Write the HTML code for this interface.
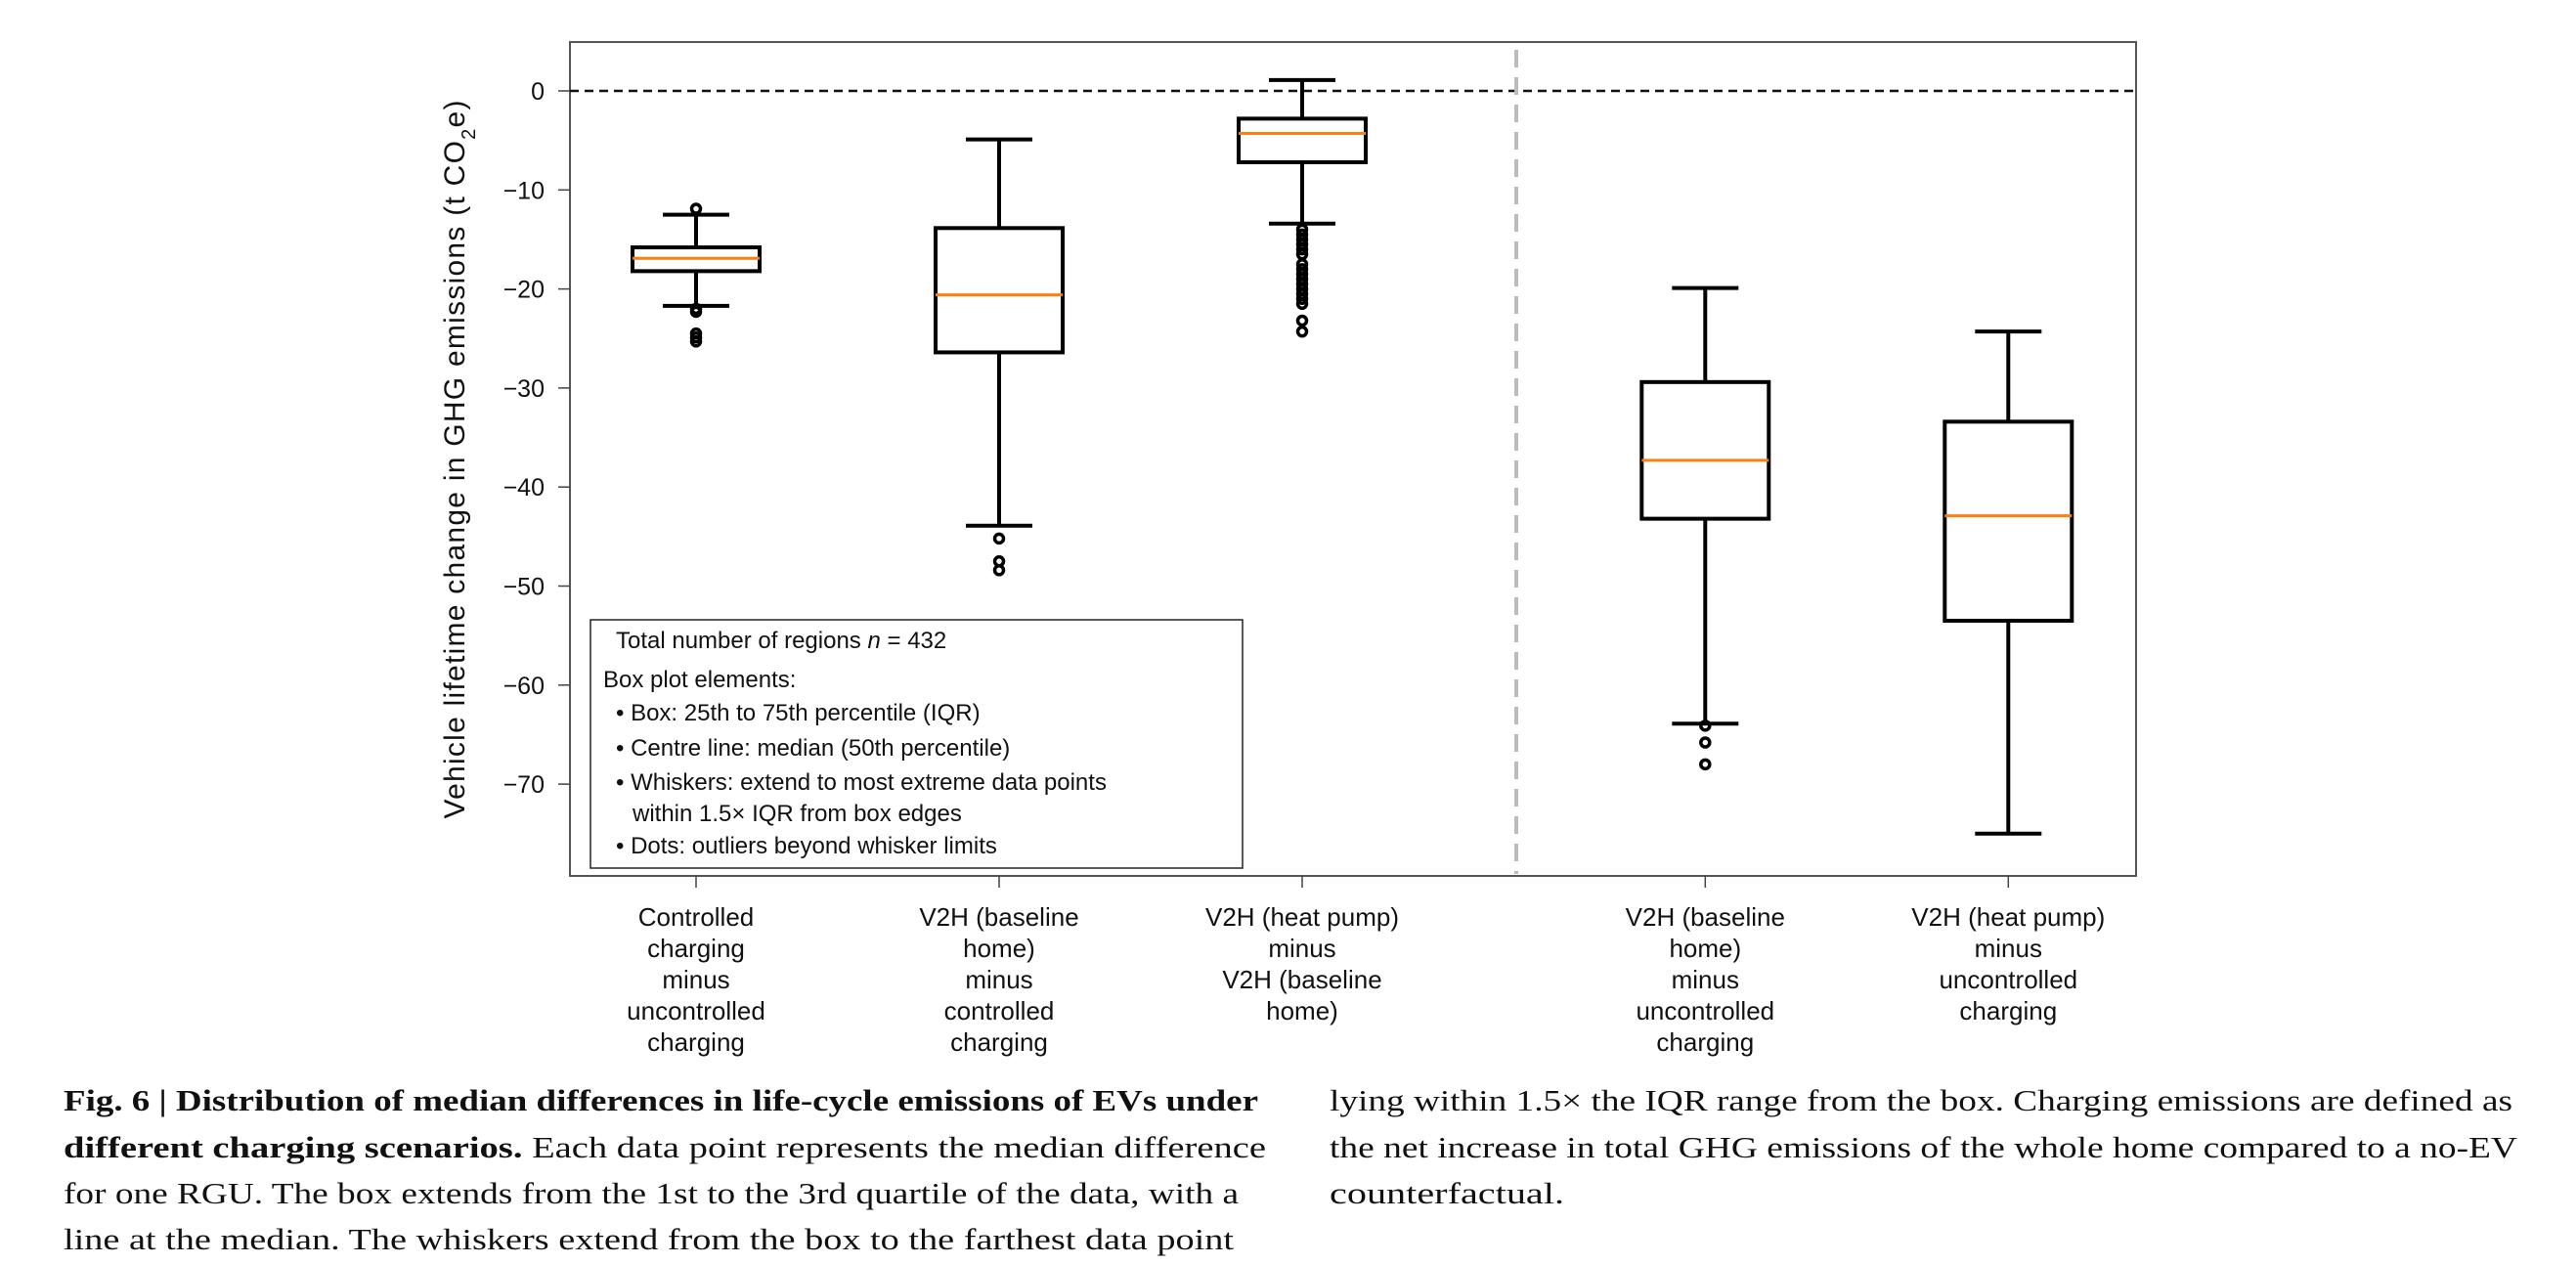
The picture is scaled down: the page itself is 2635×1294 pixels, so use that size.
<!DOCTYPE html>
<html><head><meta charset="utf-8"><style>
html,body{margin:0;padding:0;background:#fff}
svg{display:block}
text{font-family:"Liberation Sans",sans-serif;fill:#111}
.cap{font-family:"Liberation Serif",serif;font-size:31px;fill:#111}
</style></head><body>
<svg id="chart" width="2635" height="1294" viewBox="0 0 2635 1294">
<g id="plot"></g>
<g id="legend">
<rect x="604" y="634" width="667" height="254" fill="#fff" stroke="#222" stroke-width="1.5"/>
<text x="630" y="663" font-size="24">Total number of regions <tspan font-style="italic">n</tspan> = 432</text>
<text x="617" y="703" font-size="24">Box plot elements:</text>
<text x="630" y="737" font-size="24">• Box: 25th to 75th percentile (IQR)</text>
<text x="630" y="773" font-size="24">• Centre line: median (50th percentile)</text>
<text x="630" y="808" font-size="24">• Whiskers: extend to most extreme data points</text>
<text x="647" y="840" font-size="24">within 1.5× IQR from box edges</text>
<text x="630" y="873" font-size="24">• Dots: outliers beyond whisker limits</text>
</g>
<text transform="translate(475,470) rotate(-90)" text-anchor="middle" font-size="30" textLength="735">Vehicle lifetime change in GHG emissions (t CO<tspan baseline-shift="sub" font-size="20">2</tspan>e)</text>
<g>
<text class="cap" x="65" y="1136" textLength="1222" lengthAdjust="spacingAndGlyphs"><tspan font-weight="bold">Fig. 6 | Distribution of median differences in life-cycle emissions of EVs under</tspan></text>
<text class="cap" x="65" y="1184" textLength="1230" lengthAdjust="spacingAndGlyphs"><tspan font-weight="bold">different charging scenarios.</tspan> Each data point represents the median difference</text>
<text class="cap" x="65" y="1231" textLength="1202" lengthAdjust="spacingAndGlyphs">for one RGU. The box extends from the 1st to the 3rd quartile of the data, with a</text>
<text class="cap" x="65" y="1278" textLength="1197" lengthAdjust="spacingAndGlyphs">line at the median. The whiskers extend from the box to the farthest data point</text>
<text class="cap" x="1360" y="1136" textLength="1210" lengthAdjust="spacingAndGlyphs">lying within 1.5× the IQR range from the box. Charging emissions are defined as</text>
<text class="cap" x="1360" y="1184" textLength="1215" lengthAdjust="spacingAndGlyphs">the net increase in total GHG emissions of the whole home compared to a no-EV</text>
<text class="cap" x="1360" y="1231" textLength="240" lengthAdjust="spacingAndGlyphs">counterfactual.</text>
</g>
</svg>
<script>
const categories = [
  ["Controlled","charging","minus","uncontrolled","charging"],
  ["V2H (baseline","home)","minus","controlled","charging"],
  ["V2H (heat pump)","minus","V2H (baseline","home)"],
  ["V2H (baseline","home)","minus","uncontrolled","charging"],
  ["V2H (heat pump)","minus","uncontrolled","charging"]
];
const whiskerHigh = [-12.5, -4.9, 1.1, -19.9, -24.3];
const q3 = [-15.8, -13.85, -2.8, -29.4, -33.4];
const medians = [-16.9, -20.6, -4.3, -37.3, -42.9];
const q1 = [-18.2, -26.4, -7.2, -43.2, -53.5];
const whiskerLow = [-21.7, -43.9, -13.4, -63.9, -75.0];
const outliers = [
  [-11.9, -22.0, -22.3, -24.5, -24.9, -25.3],
  [-45.2, -47.5, -48.4],
  [-14.0, -14.5, -15.0, -15.5, -16.0, -16.5, -17.5, -18.0, -18.5, -19.0, -19.5, -20.0, -20.5, -21.0, -21.5, -23.2, -24.3],
  [-64.1, -65.8, -68.0],
  []
];
const yTicks = [0, -10, -20, -30, -40, -50, -60, -70];
const slots = [0, 1, 2, 3.33, 4.33];

const NS = "http://www.w3.org/2000/svg";
const L = 583, R = 2185, T = 43, B = 896;
function yS(v){ return 93 + (0 - v) * 10.13; }
function xS(s){ return 712 + s * 310; }
const g = document.getElementById('plot');
function mk(tag, attrs){
  const e = document.createElementNS(NS, tag);
  for (const k in attrs) e.setAttribute(k, attrs[k]);
  g.appendChild(e); return e;
}
let e;
e = mk('rect',{x:L,y:T,width:R-L,height:B-T,fill:'#fff',stroke:'#444','stroke-width':1.8});


e = mk('line',{x1:L,x2:R,y1:yS(0),y2:yS(0),stroke:'#111','stroke-width':2.5,'stroke-dasharray':'9,6'});


e = mk('line',{x1:1551,x2:1551,y1:T+8,y2:B-2,stroke:'#bbb','stroke-width':4,'stroke-dasharray':'18,10'});


yTicks.forEach(v=>{
  const y = yS(v);
  e = mk('line',{x1:L-12,x2:L,y1:y,y2:y,stroke:'#444','stroke-width':1.5});
  
  
  e = mk('text',{x:557,y:y+9,'text-anchor':'end','font-size':25});
  e.textContent = v === 0 ? '0' : '\u2212' + Math.abs(v);
  
  
});
categories.forEach((lines,i)=>{
  const x = xS(slots[i]);
  e = mk('line',{x1:x,x2:x,y1:B,y2:B+12,stroke:'#444','stroke-width':1.5});
  
  
  const t = mk('text',{x:x,y:947,'text-anchor':'middle','font-size':26});
  
  
  lines.forEach((ln,j)=>{
    const ts = document.createElementNS(NS,'tspan');
    ts.setAttribute('x',x); ts.setAttribute('y',947+j*32);
    ts.textContent = ln; t.appendChild(ts);
  });
  e = mk('line',{x1:x,x2:x,y1:yS(whiskerHigh[i]),y2:yS(q3[i]),stroke:'#000','stroke-width':4});
  
  
  e = mk('line',{x1:x,x2:x,y1:yS(q1[i]),y2:yS(whiskerLow[i]),stroke:'#000','stroke-width':4});
  
  
  e = mk('line',{x1:x-34,x2:x+34,y1:yS(whiskerHigh[i]),y2:yS(whiskerHigh[i]),stroke:'#000','stroke-width':4});
  
  
  e = mk('line',{x1:x-34,x2:x+34,y1:yS(whiskerLow[i]),y2:yS(whiskerLow[i]),stroke:'#000','stroke-width':4});
  
  
  e = mk('rect',{x:x-65,y:yS(q3[i]),width:130,height:yS(q1[i])-yS(q3[i]),fill:'#fff',stroke:'#000','stroke-width':4});
  
  
  e = mk('line',{x1:x-65,x2:x+65,y1:yS(medians[i]),y2:yS(medians[i]),stroke:'#ff7f0e','stroke-width':3});
  
  
  outliers[i].forEach(v=>{
    e = mk('circle',{cx:x,cy:yS(v),r:4.5,fill:'none',stroke:'#000','stroke-width':3.5});
    
    
  });
});
</script>
</body></html>
